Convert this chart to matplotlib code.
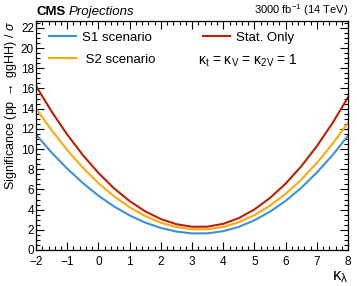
"""
HH significance vs kappa_lambda, CMS HL-LHC projection style.
"""
import matplotlib
matplotlib.use('Agg')
import matplotlib.pyplot as plt
from matplotlib.ticker import MultipleLocator

plt.rcParams['font.family'] = ['Liberation Sans', 'DejaVu Sans']
plt.rcParams['mathtext.fontset'] = 'custom'
plt.rcParams['mathtext.rm'] = 'Liberation Sans'
plt.rcParams['mathtext.it'] = 'Liberation Sans:italic'

# --- data ---
kappa_lambda = [-2.0, -1.5, -1.0, -0.5, 0.0, 0.5, 1.0, 1.5, 2.0, 2.5, 3.0,
                3.5, 4.0, 4.5, 5.0, 5.5, 6.0, 6.5, 7.0, 7.5, 8.0]
sig_s1 = [11.43, 9.65, 8.05, 6.63, 5.38, 4.31, 3.42, 2.71, 2.18, 1.82, 1.64,
          1.65, 1.86, 2.29, 2.94, 3.80, 4.87, 6.16, 7.67, 9.39, 11.32]
sig_s2 = [14.0, 11.86, 9.89, 8.15, 6.62, 5.32, 4.23, 3.36, 2.70, 2.27, 2.05,
          2.05, 2.28, 2.75, 3.46, 4.40, 5.57, 6.98, 8.63, 10.51, 12.62]
sig_stat = [16.24, 13.71, 11.43, 9.40, 7.63, 6.10, 4.84, 3.82, 3.06, 2.55, 2.30,
            2.31, 2.59, 3.16, 4.02, 5.16, 6.58, 8.29, 10.29, 12.57, 15.13]

colors = {'s1': '#3f90da', 's2': '#ffa90e', 'stat': '#bd1f01'}

fig = plt.figure(figsize=(3.57, 2.86), dpi=100)
ax = fig.add_axes([0.101, 0.126, 0.874, 0.801])

ax.plot(kappa_lambda, sig_s1, color=colors['s1'], lw=1.5, label='S1 scenario')
ax.plot(kappa_lambda, sig_s2, color=colors['s2'], lw=1.5, label=' S2 scenario')
ax.plot(kappa_lambda, sig_stat, color=colors['stat'], lw=1.5, label='Stat. Only')

ax.set_xlim(-2, 8)
ax.set_ylim(0, 22.7)
ax.xaxis.set_major_locator(MultipleLocator(1))
ax.xaxis.set_minor_locator(MultipleLocator(0.2))
ax.yaxis.set_major_locator(MultipleLocator(2))
ax.yaxis.set_minor_locator(MultipleLocator(0.5))
ax.tick_params(which='both', direction='in', top=True, right=True,
               labelsize=8.5, width=0.8)
ax.tick_params(axis='x', pad=4)
ax.tick_params(axis='y', pad=1.5)
ax.tick_params(which='major', length=6)
ax.tick_params(which='minor', length=3)
for sp in ax.spines.values():
    sp.set_linewidth(0.9)

ax.set_ylabel(r'Significance (pp $\rightarrow$ ggHH) / $\sigma$',
              fontsize=9, loc='top', labelpad=1)
ax.set_xlabel(r'κ$_\mathregular{\lambda}$', fontsize=12, loc='right', labelpad=1)

leg = ax.legend(loc='upper left', bbox_to_anchor=(0.005, 1.004), ncol=2,
                frameon=False, fontsize=9.5, handlelength=2.0,
                columnspacing=3.6, labelspacing=0.7, handletextpad=0.5)

ax.text(0.519, 0.825, r'κ$_\mathregular{t}$ = κ$_\mathregular{V}$ = κ$_\mathregular{2V}$ = 1',
        transform=ax.transAxes, fontsize=10, va='center', ha='left')

ax.text(0.0, 1.012, 'CMS', transform=ax.transAxes, fontsize=9.5,
        fontweight='bold', ha='left', va='bottom')
ax.text(0.105, 1.012, 'Projections', transform=ax.transAxes, fontsize=9.5,
        style='italic', ha='left', va='bottom')
ax.text(1.0, 1.012, r'3000 fb$^{-1}$ (14 TeV)', transform=ax.transAxes,
        fontsize=8, ha='right', va='bottom')

fig.savefig('out.png', dpi=100)
